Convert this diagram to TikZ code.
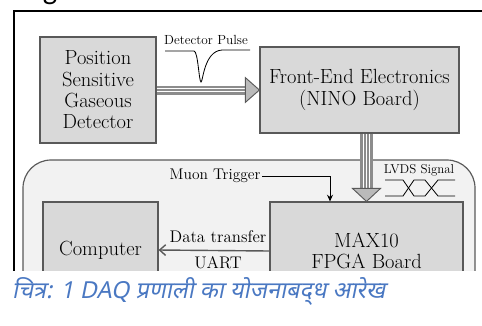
\documentclass[tikz,border=0pt]{standalone}
\usepackage{fontspec}
\newfontfamily\hindifont[Script=Devanagari,FakeSlant=0.2]{Noto Sans}
\newfontfamily\headfont{Carlito}
\usetikzlibrary{arrows.meta}
\definecolor{boxgray}{HTML}{D9D9D9}
\definecolor{panelgray}{HTML}{F2F2F2}
\definecolor{edgegray}{HTML}{595959}
\definecolor{busgray}{HTML}{8C8C8C}
\definecolor{capblue}{HTML}{4A78C2}
\tikzset{
  unit/.style={draw=edgegray, fill=boxgray, line width=1pt, align=center, inner sep=0pt,
    font=\fontsize{17.5}{18.2}\selectfont},
  lbl/.style={inner sep=1pt},
  wire/.style={line width=0.7pt},
}
\begin{document}
\begin{tikzpicture}[x=0.03cm,y=-0.03cm]
\useasboundingbox (0,0) rectangle (482,325);
\begin{scope}
\clip (0,0) rectangle (482,270);
\node[anchor=base, inner sep=0pt] (g) at (50,-0.5) {\headfont\fontsize{26}{30}\selectfont g};
% outer frame and panel
\draw[line width=1.7pt] (14,400) |- (520,11);
\draw[draw=edgegray, fill=panelgray, line width=1pt, rounded corners=0.84cm] (23,400) |- (475,160) -- (475,400);
% blocks
\node[unit, minimum width=3.48cm, minimum height=3.18cm] (det) at (98,90) {Position\\Sensitive\\Gaseous\\Detector};
\node[unit, minimum width=5.97cm, minimum height=2.58cm] (feb) at (359.5,90) {Front-End Electronics\\(NINO Board)};
\node[unit, minimum width=5.79cm, minimum height=2.94cm] (fpga) at (366.5,251) {MAX10\\FPGA Board};
\node[unit, minimum width=3.45cm, minimum height=2.88cm] (comp) at (100.5,250) {Computer};
% detector pulse
\node[lbl, font=\fontsize{11.3}{13}\selectfont] (pulse) at (206,40) {Detector Pulse};
\draw[wire] (165,51) -- (194,51) .. controls (198,51) and (199,82) .. (201,82)
  .. controls (203,82) and (204,51) .. (222,50) -- (250,50);
% bus detector -> NINO
\draw[busgray, line width=0.27cm] (det.east) -- ([xshift=-0.4cm]feb.west);
\draw[white, line width=0.6pt] ([yshift=1.3pt]det.east) -- ([xshift=-0.4cm,yshift=1.3pt]feb.west);
\draw[white, line width=0.6pt] ([yshift=-1.3pt]det.east) -- ([xshift=-0.4cm,yshift=-1.3pt]feb.west);
\draw[edgegray, fill=boxgray!60!busgray, line width=0.8pt] (feb.west) -- ++(-0.42cm,0.37cm) -- ++(0,-0.74cm) -- cycle;
% bus NINO -> FPGA
\draw[busgray, line width=0.39cm] (fpga.north |- feb.south) -- ([yshift=0.38cm]fpga.north);
\foreach \dx in {-2.7pt,0pt,2.7pt}
  \draw[white, line width=0.6pt] ([xshift=\dx]fpga.north |- feb.south) -- ([xshift=\dx,yshift=0.38cm]fpga.north);
\draw[edgegray, fill=boxgray!60!busgray, line width=0.8pt] (fpga.north) -- ++(-0.42cm,0.39cm) -- ++(0.84cm,0) -- cycle;
% muon trigger
\node[lbl, anchor=east, font=\fontsize{13.2}{15}\selectfont] (muon) at (262,176) {Muon Trigger};
\draw[wire, -{Stealth[length=2mm,width=1.8mm]}] (muon.east) -| ([xshift=-1.095cm]fpga.north);
% LVDS signal
\node[lbl, font=\fontsize{11}{12}\selectfont] (lvds) at (419,170) {LVDS Signal};
\draw[wire] (385,180) -- (403,180) -- (414,196) -- (425,196) -- (438,180) -- (455,180);
\draw[wire] (385,196) -- (403,196) -- (414,180) -- (425,180) -- (438,196) -- (455,196);
% data transfer
\draw[line width=1.2pt, draw=edgegray, -{Straight Barb[length=1.8mm,width=3.2mm]}] (fpga.west) -- (comp.east);
\node[lbl, font=\fontsize{14.4}{16}\selectfont] (dt) at (218,237) {Data transfer};
\node[lbl, font=\fontsize{14.4}{16}\selectfont] (uart) at (218,263) {UART};
\end{scope}
% caption
\node[anchor=west, text=capblue, inner sep=0pt] (cap) at (12,291) {\hindifont\fontsize{20}{24}\selectfont चित्र: 1 DAQ प्रणाली का योजनाबद्^^^^200cध आरेख};
\end{tikzpicture}
\end{document}
